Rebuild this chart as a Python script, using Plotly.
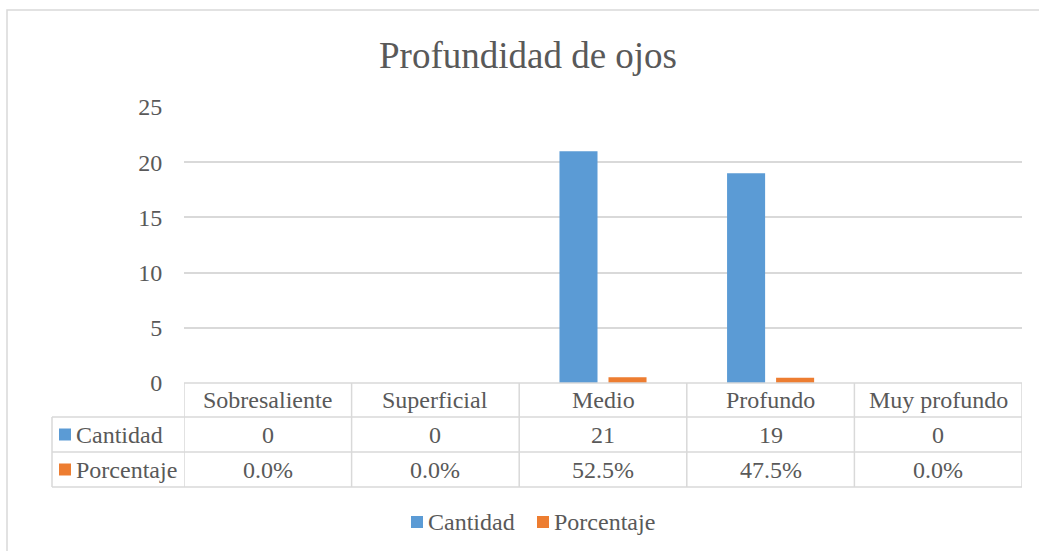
import plotly.graph_objects as go

categories = ["Sobresaliente", "Superficial", "Medio", "Profundo", "Muy profundo"]
cantidad = [0, 0, 21, 19, 0]
porcentaje = [0.0, 0.0, 0.525, 0.475, 0.0]
series_names = ["Cantidad", "Porcentaje"]
colors = ["#5b9bd5", "#ed7d31"]
y_ticks = [0, 5, 10, 15, 20, 25]

W, H = 1039, 551
L, R, T, B = 184, 17, 107, 168
PW, PH = W - L - R, H - T - B
TXT = "#595959"
GRID = "#d9d9d9"
FONT = "Times New Roman, Liberation Serif, DejaVu Serif, serif"


def px(xp):
    return (xp - L) / PW


def py(yp):
    return (H - B - yp) / PH


fig = go.Figure()
for name, vals, col in zip(series_names, [cantidad, porcentaje], colors):
    fig.add_trace(go.Bar(x=categories, y=vals, name=name, marker_color=col,
                         marker_line_width=0, showlegend=False))

shapes = []
annotations = []
n = len(categories)
row_y = [383, 417, 452, 487]
shapes.append(dict(type="line", xref="x", yref="paper", x0=-0.5, x1=n - 0.5,
                   y0=py(row_y[0]), y1=py(row_y[0]), line=dict(color=GRID, width=1.5)))
for yy in row_y[1:]:
    shapes.append(dict(type="line", xref="paper", yref="paper", x0=px(52), x1=1,
                       y0=py(yy), y1=py(yy), line=dict(color=GRID, width=1.5)))
for i in range(n + 1):
    shapes.append(dict(type="line", xref="x", yref="paper", x0=i - 0.5, x1=i - 0.5,
                       y0=py(row_y[0]), y1=py(row_y[3]), line=dict(color=GRID, width=1.5)))
shapes.append(dict(type="line", xref="paper", yref="paper", x0=px(52), x1=px(52),
                   y0=py(row_y[1]), y1=py(row_y[3]), line=dict(color=GRID, width=1.5)))

for c in categories:
    annotations.append(dict(x=c, xref="x", y=py(400), yref="paper", text=c,
                            showarrow=False, xanchor="center", yanchor="middle",
                            font=dict(family=FONT, size=24, color=TXT)))
row_texts = [[str(v) for v in cantidad], [f"{v * 100:.1f}%" for v in porcentaje]]
row_centers = [434.5, 469.5]
for r, (name, col, texts, yc) in enumerate(zip(series_names, colors, row_texts, row_centers)):
    shapes.append(dict(type="rect", xref="paper", yref="paper", x0=px(59), x1=px(71),
                       y0=py(yc - 6), y1=py(yc + 6), fillcolor=col, line=dict(width=0)))
    annotations.append(dict(x=px(74), xref="paper", y=py(yc), yref="paper", text=name,
                            showarrow=False, xanchor="left", yanchor="middle",
                            font=dict(family=FONT, size=24, color=TXT)))
    for c, t in zip(categories, texts):
        annotations.append(dict(x=c, xref="x", y=py(yc), yref="paper", text=t,
                                showarrow=False, xanchor="center", yanchor="middle",
                                font=dict(family=FONT, size=24, color=TXT)))

leg_y = 522
for name, col, sx in zip(series_names, colors, [411, 537]):
    shapes.append(dict(type="rect", xref="paper", yref="paper", x0=px(sx), x1=px(sx + 12),
                       y0=py(leg_y - 6), y1=py(leg_y + 6), fillcolor=col, line=dict(width=0)))
    annotations.append(dict(x=px(sx + 15), xref="paper", y=py(leg_y), yref="paper", text=name,
                            showarrow=False, xanchor="left", yanchor="middle",
                            font=dict(family=FONT, size=24, color=TXT)))

shapes.append(dict(type="rect", xref="paper", yref="paper", x0=px(7), x1=px(W + 10),
                   y0=py(10), y1=py(H + 10), line=dict(color=GRID, width=1.5),
                   fillcolor="rgba(0,0,0,0)", layer="below"))

fig.update_layout(
    width=W, height=H,
    margin=dict(l=L, r=R, t=T, b=B),
    paper_bgcolor="white", plot_bgcolor="white",
    title=dict(text="Profundidad de ojos", x=528 / W, xanchor="center", xref="container",
               y=1 - 55 / H, yanchor="middle", yref="container",
               font=dict(family=FONT, size=37, color=TXT)),
    barmode="group", bargap=0.415, bargroupgap=0.224,
    xaxis=dict(showticklabels=False, showgrid=False, zeroline=False, showline=False,
               range=[-0.5, n - 0.5], fixedrange=True),
    yaxis=dict(range=[0, 25], tickvals=y_ticks, showgrid=True, gridcolor=GRID, gridwidth=1.5,
               zeroline=False, showline=False, ticks="outside", ticklen=16,
               tickcolor="rgba(0,0,0,0)", tickfont=dict(family=FONT, size=24, color=TXT)),
    shapes=shapes, annotations=annotations,
    font=dict(family=FONT, color=TXT),
)
fig.write_html("out.html", config={"displayModeBar": False},
               post_script="document.body.style.margin='0';")
